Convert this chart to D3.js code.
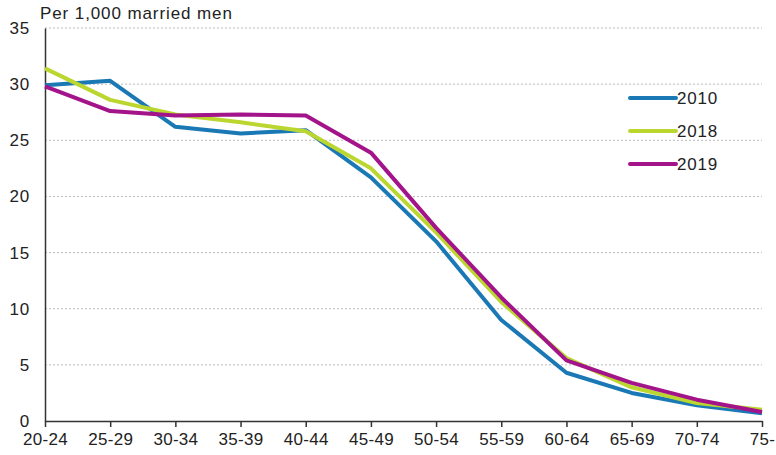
<!DOCTYPE html>
<html>
<head>
<meta charset="utf-8">
<script src="https://cdn.jsdelivr.net/npm/d3@7"></script>
<style>
body { margin: 0; background: #fff; }
text { font-family: "Liberation Sans", Arial, sans-serif; fill: #222; }
</style>
</head>
<body>
<svg id="chart" width="776" height="455"></svg>
<script>
var ageGroups = ["20-24", "25-29", "30-34", "35-39", "40-44", "45-49", "50-54", "55-59", "60-64", "65-69", "70-74", "75-"]
var yTicks = [0, 5, 10, 15, 20, 25, 30, 35]

var values2010 = [29.9, 30.3, 26.2, 25.6, 25.9, 21.7, 16.0, 9.0, 4.3, 2.5, 1.4, 0.7]
var values2018 = [31.4, 28.6, 27.3, 26.6, 25.8, 22.5, 16.8, 10.6, 5.6, 3.0, 1.6, 1.0]
var values2019 = [29.8, 27.6, 27.2, 27.3, 27.2, 23.9, 17.2, 11.0, 5.4, 3.4, 1.9, 0.8]

var series = [
    { name: "2010", values: values2010, color: "#1a78b5" },
    { name: "2018", values: values2018, color: "#bcd630" },
    { name: "2019", values: values2019, color: "#a3148a" }
]

var svg = d3.select("#chart")
var plotLeft = 45, plotRight = 762, plotTop = 28, plotBottom = 421

var x = d3.scalePoint()
    .domain(ageGroups)
    .range([plotLeft, plotRight])

var y = d3.scaleLinear()
    .domain([0, 35])
    .range([plotBottom, plotTop])

// gridlines
svg.append("g")
    .selectAll("line")
    .data(yTicks.filter(function(d) { return d > 0 }))
    .enter()
    .append("line")
    .attr("x1", plotLeft)
    .attr("x2", plotRight)
    .attr("y1", function(d) { return y(d) })
    .attr("y2", function(d) { return y(d) })
    .attr("stroke", "#bbb")
    .attr("stroke-width", 1)
    .attr("stroke-dasharray", "2,2")

// y axis
var yAxis = svg.append("g")
    .attr("transform", "translate(" + plotLeft + ",0)")
    .call(d3.axisLeft(y).tickValues(yTicks).tickSize(0).tickPadding(15).tickSizeOuter(0))
yAxis.select(".domain").attr("stroke", "#333").attr("stroke-width", 1.5)
yAxis.selectAll("text")
    .style("font-size", "17px")
    .style("letter-spacing", "0.8px")
    .style("font-family", "Liberation Sans, Arial, sans-serif")
    .attr("fill", "#222")

// x axis
var xAxis = svg.append("g")
    .attr("transform", "translate(0," + plotBottom + ")")
    .call(d3.axisBottom(x).tickSize(6).tickPadding(6).tickSizeOuter(0))
xAxis.select(".domain").attr("stroke", "#333").attr("stroke-width", 1.5)
xAxis.selectAll("line").attr("stroke", "#333").attr("stroke-width", 1.5)
xAxis.selectAll("text")
    .style("font-size", "17px")
    .style("letter-spacing", "0.3px")
    .style("font-family", "Liberation Sans, Arial, sans-serif")
    .attr("fill", "#222")

// lines
var line = d3.line()
    .x(function(d, i) { return x(ageGroups[i]) })
    .y(function(d) { return y(d) })

svg.append("g")
    .selectAll("path")
    .data(series)
    .enter()
    .append("path")
    .attr("d", function(d) { return line(d.values) })
    .attr("fill", "none")
    .attr("stroke", function(d) { return d.color })
    .attr("stroke-width", 4)
    .attr("stroke-linejoin", "round")

// legend
var legend = svg.append("g")
    .selectAll("g")
    .data(series)
    .enter()
    .append("g")
    .attr("transform", function(d, i) { return "translate(630," + (98 + i * 33) + ")" })

legend.append("line")
    .attr("x1", 0)
    .attr("x2", 46)
    .attr("stroke", function(d) { return d.color })
    .attr("stroke-width", 4)
    .attr("stroke-linecap", "round")

legend.append("text")
    .attr("x", 47)
    .attr("y", 6)
    .style("font-size", "17px")
    .style("letter-spacing", "0.8px")
    .text(function(d) { return d.name })

// title
svg.append("text")
    .attr("x", 40)
    .attr("y", 19)
    .style("font-size", "17px")
    .style("letter-spacing", "0.9px")
    .text("Per 1,000 married men")
</script>
</body>
</html>
